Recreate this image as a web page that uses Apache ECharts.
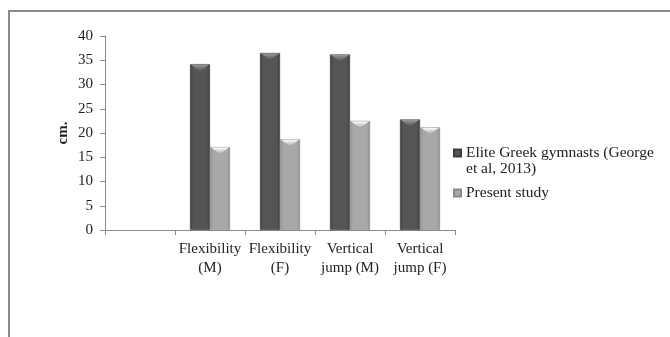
<!DOCTYPE html>
<html>
<head>
<meta charset="utf-8">
<script src="https://cdn.jsdelivr.net/npm/echarts@6/dist/echarts.min.js"></script>
<style>
  html, body { margin: 0; padding: 0; background: #fff; }
  #chart { width: 670px; height: 337px; }
</style>
</head>
<body>
<div id="chart"></div>
<script>
// Test categories (first slot is left blank on purpose)
const categories = ['', 'Flexibility\n(M)', 'Flexibility\n(F)', 'Vertical\njump (M)', 'Vertical\njump (F)'];
// Values in cm
const eliteGreek = [null, 34.2, 36.5, 36.2, 22.8];
const presentStudy = [null, 17.1, 18.7, 22.5, 21.2];
const seriesNames = ['Elite Greek gymnasts (George et al, 2013)', 'Present study'];
const yTicks = { min: 0, max: 40, interval: 5 };

const FONT = '"Liberation Serif", "Times New Roman", serif';
const BAR_W = 20;

function barFill(edge, mid) {
  return new echarts.graphic.LinearGradient(0, 0, 1, 0, [
    { offset: 0, color: edge },
    { offset: 0.15, color: mid },
    { offset: 0.85, color: mid },
    { offset: 1, color: edge }
  ]);
}

// Bevel highlight on top of each bar, placed from the same values via the axes
const bevelColors = [['#9a9a9a', '#555555'], ['#ffffff', '#a8a8a8']];
const bevelData = [];
[eliteGreek, presentStudy].forEach(function (vals, s) {
  vals.forEach(function (v, i) { if (v != null) bevelData.push([i, v, s]); });
});

function renderBevel(params, api) {
  const cat = api.value(0), val = api.value(1), s = api.value(2);
  const top = api.coord([cat, val]);
  const x0 = top[0] - BAR_W + s * BAR_W;
  const y0 = top[1];
  const c = bevelColors[s];
  return {
    type: 'polygon',
    shape: { points: [[x0 + 1, y0 + 0.5], [x0 + BAR_W - 1, y0 + 0.5], [x0 + BAR_W / 2, y0 + 7]] },
    style: {
      fill: new echarts.graphic.LinearGradient(0, 0, 0, 1, [
        { offset: 0, color: c[0] },
        { offset: 1, color: c[1] }
      ])
    },
    silent: true
  };
}

const chart = echarts.init(document.getElementById('chart'), null, { renderer: 'canvas' });
chart.setOption({
  animation: false,
  backgroundColor: '#fff',
  textStyle: { fontFamily: FONT },
  graphic: [{
    type: 'rect',
    shape: { x: 9, y: 11, width: 700, height: 400 },
    style: { fill: 'none', stroke: '#8a8a8a', lineWidth: 2 },
    silent: true
  }],
  grid: { left: 105, top: 36, right: 215, bottom: 107, containLabel: false },
  legend: {
    orient: 'vertical',
    left: 453,
    top: 129,
    padding: 0,
    itemWidth: 7,
    itemHeight: 7,
    itemGap: 8,
    icon: 'rect',
    // the wrapped entry keeps its marker level with the first text line
    formatter: function (name) {
      return name === seriesNames[0] ? ' \nElite Greek gymnasts (George\net al, 2013)' : name;
    },
    textStyle: { fontFamily: FONT, fontSize: 15.5, color: '#222', lineHeight: 16 },
    data: seriesNames
  },
  xAxis: {
    type: 'category',
    data: categories,
    axisLine: { lineStyle: { color: '#8a8a8a', width: 1 } },
    axisTick: { show: true, length: 5, lineStyle: { color: '#8a8a8a' } },
    axisLabel: { fontFamily: FONT, fontSize: 15, color: '#222', lineHeight: 19, margin: 10, interval: 0 }
  },
  yAxis: {
    type: 'value',
    min: yTicks.min,
    max: yTicks.max,
    interval: yTicks.interval,
    name: 'cm.',
    nameLocation: 'middle',
    nameGap: 34,
    nameMoveOverlap: false,
    nameTextStyle: { fontFamily: FONT, fontSize: 15, fontWeight: 'bold', color: '#222' },
    axisLine: { show: true, lineStyle: { color: '#8a8a8a', width: 1 } },
    axisTick: { show: true, length: 5, lineStyle: { color: '#8a8a8a' } },
    splitLine: { show: false },
    axisLabel: { fontFamily: FONT, fontSize: 15, color: '#222', margin: 12 }
  },
  series: [
    {
      name: seriesNames[0],
      type: 'bar',
      data: eliteGreek,
      barWidth: BAR_W,
      barGap: '0%',
      color: '#4f4f4f',
      itemStyle: { color: barFill('#3a3a3a', '#555555'), borderColor: '#3c3c3c', borderWidth: 0.5 }
    },
    {
      name: seriesNames[1],
      type: 'bar',
      data: presentStudy,
      barWidth: BAR_W,
      barGap: '0%',
      color: '#a6a6a6',
      itemStyle: { color: barFill('#8c8c8c', '#a8a8a8'), borderColor: '#8a8a8a', borderWidth: 0.5 }
    },
    {
      type: 'custom',
      name: 'bevel',
      data: bevelData,
      renderItem: renderBevel,
      encode: { x: 0, y: 1 },
      silent: true,
      z: 3
    }
  ]
});
</script>
</body>
</html>
